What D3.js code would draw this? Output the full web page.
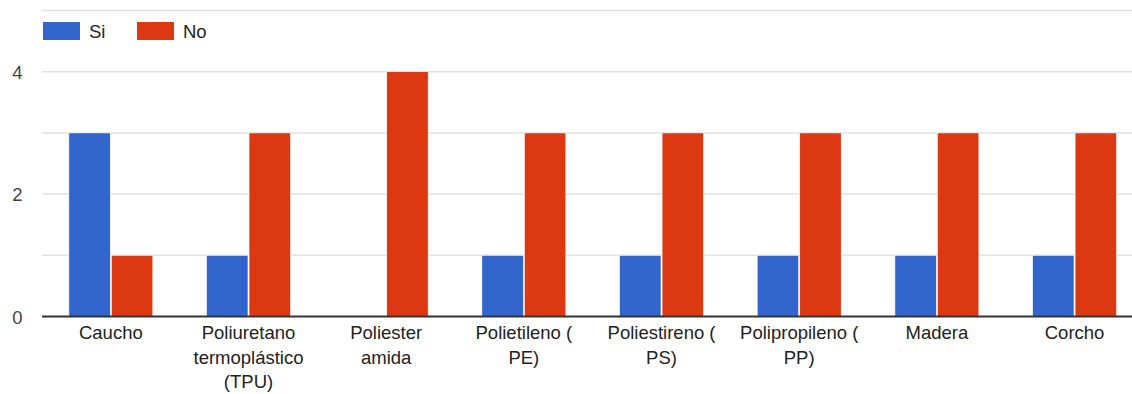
<!DOCTYPE html>
<html>
<head>
<meta charset="utf-8">
<script src="https://cdn.jsdelivr.net/npm/d3@7"></script>
<style>
  html, body { margin: 0; padding: 0; background: #fff; }
  svg { display: block; font-family: "Liberation Sans", Arial, sans-serif; }
</style>
</head>
<body>
<svg id="chart" width="1132" height="394"></svg>
<script>
// Materials and answer counts
const categories = [
  ["Caucho"],
  ["Poliuretano", "termoplástico", "(TPU)"],
  ["Poliester", "amida"],
  ["Polietileno (", "PE)"],
  ["Poliestireno (", "PS)"],
  ["Polipropileno (", "PP)"],
  ["Madera"],
  ["Corcho"]
];
const seriesNames = ["Si", "No"];
const siValues = [3, 1, 0, 1, 1, 1, 1, 1];
const noValues = [1, 3, 4, 3, 3, 3, 3, 3];
const yTickLabels = [0, 2, 4];
const gridValues = [0, 1, 2, 3, 4, 5];
const colors = ["#3366cc", "#dc3912"];

const svg = d3.select("#chart");
const plotLeft = 42, plotRight = 1143.4, plotTop = 10.5, plotBottom = 316.5;
const fontSize = 18.5;

const x0 = d3.scaleBand()
  .domain(d3.range(categories.length))
  .range([plotLeft, plotRight])
  .paddingInner(0.39)
  .paddingOuter(0.195);
const x1 = d3.scaleBand()
  .domain(seriesNames)
  .range([0, x0.bandwidth()])
  .paddingInner(0.025);
const y = d3.scaleLinear().domain([0, 5]).range([plotBottom, plotTop]);

// Gridlines
svg.append("g").selectAll("line")
  .data(gridValues.filter(v => v > 0))
  .join("line")
  .attr("x1", plotLeft).attr("x2", 1132)
  .attr("y1", d => y(d)).attr("y2", d => y(d))
  .attr("stroke", "#e2e2e2").attr("stroke-width", 1.5);

// Y tick labels
svg.append("g").selectAll("text")
  .data(yTickLabels)
  .join("text")
  .attr("x", 22.5).attr("y", d => y(d) + 7)
  .attr("text-anchor", "end")
  .attr("font-size", fontSize).attr("fill", "#444")
  .text(d => d);

// Bars
const rows = categories.map((c, i) => [
  { s: "Si", v: siValues[i], c: colors[0] },
  { s: "No", v: noValues[i], c: colors[1] }
]);
svg.append("g").selectAll("g")
  .data(rows)
  .join("g")
  .attr("transform", (d, i) => `translate(${x0(i)},0)`)
  .selectAll("rect")
  .data(d => d.filter(b => b.v > 0))
  .join("rect")
  .attr("x", d => x1(d.s))
  .attr("width", x1.bandwidth())
  .attr("y", d => y(d.v))
  .attr("height", d => y(0) - y(d.v))
  .attr("fill", d => d.c)
  .attr("stroke", "#fff").attr("stroke-width", 0.6);

// Baseline
svg.append("line")
  .attr("x1", plotLeft).attr("x2", 1132)
  .attr("y1", y(0)).attr("y2", y(0))
  .attr("stroke", "#333").attr("stroke-width", 2);

// Category labels
const lab = svg.append("g").selectAll("text")
  .data(categories)
  .join("text")
  .attr("x", (d, i) => x0(i) + x0.bandwidth() / 2)
  .attr("y", 339)
  .attr("text-anchor", "middle")
  .attr("font-size", fontSize).attr("fill", "#222");
lab.selectAll("tspan")
  .data(d => d)
  .join("tspan")
  .attr("x", function () { return d3.select(this.parentNode).attr("x"); })
  .attr("dy", (d, i) => i === 0 ? 0 : 24.5)
  .text(d => d);

// Legend
const legend = svg.append("g").selectAll("g")
  .data(seriesNames)
  .join("g")
  .attr("transform", (d, i) => `translate(${43 + i * 94},22)`);
legend.append("rect")
  .attr("width", 37).attr("height", 18)
  .attr("fill", (d, i) => colors[i]);
legend.append("text")
  .attr("x", 46).attr("y", 15.5)
  .attr("font-size", fontSize).attr("fill", "#222")
  .text(d => d);
</script>
</body>
</html>
